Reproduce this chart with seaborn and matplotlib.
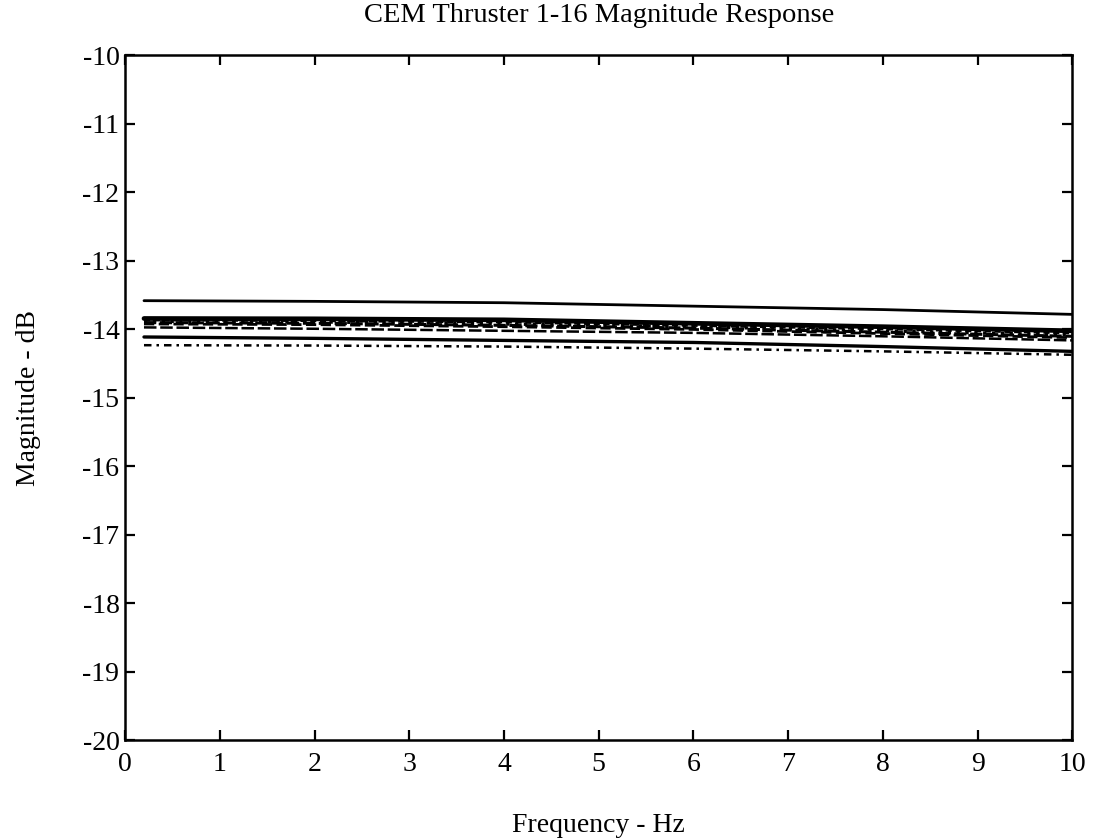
import numpy as np
import pandas as pd
import matplotlib
matplotlib.use("Agg")
import matplotlib.pyplot as plt
import seaborn as sns

# Frequency points (Hz) at which each thruster response is tabulated
freq_hz = [0.2, 2, 4, 6, 8, 10]

# Magnitude responses (dB) for the thruster channels
thr_a = [-13.58, -13.59, -13.61, -13.66, -13.71, -13.78]
thr_b = [-13.84, -13.845, -13.86, -13.91, -13.96, -14.02]
thr_c = [-13.86, -13.87, -13.89, -13.94, -13.99, -14.05]
thr_d = [-13.88, -13.89, -13.92, -13.96, -14.02, -14.08]
thr_e = [-13.90, -13.91, -13.94, -13.98, -14.04, -14.10]
thr_f = [-13.92, -13.93, -13.96, -14.00, -14.06, -14.12]
thr_g = [-13.97, -13.99, -14.02, -14.05, -14.10, -14.16]
thr_h = [-14.11, -14.13, -14.16, -14.19, -14.25, -14.32]
thr_i = [-14.23, -14.235, -14.25, -14.28, -14.32, -14.37]

x_ticks = [0, 1, 2, 3, 4, 5, 6, 7, 8, 9, 10]
y_ticks = [-20, -19, -18, -17, -16, -15, -14, -13, -12, -11, -10]

series = [
    ("a", thr_a, "-", 2.0),
    ("b", thr_b, "-", 3.4),
    ("c", thr_c, (0, (2, 1.2)), 2.2),
    ("d", thr_d, ":", 2.4),
    ("e", thr_e, (0, (4, 1.2)), 2.2),
    ("f", thr_f, "--", 2.0),
    ("g", thr_g, (0, (5, 1.5)), 1.8),
    ("h", thr_h, "-", 2.4),
    ("i", thr_i, (0, (3, 2, 1, 2)), 1.8),
]

sns.set_style("ticks")
plt.rcParams["font.family"] = ["Liberation Serif", "DejaVu Serif"]
plt.rcParams["text.color"] = "black"
plt.rcParams["axes.labelcolor"] = "black"

fig = plt.figure(figsize=(10.94, 8.40), dpi=100)
ax = fig.add_axes([0.1143, 0.1185, 0.866, 0.8155])

for name, vals, ls, lw in series:
    df = pd.DataFrame({"freq": freq_hz, "mag": vals})
    sns.lineplot(data=df, x="freq", y="mag", ax=ax, color="black",
                 linestyle=ls, linewidth=lw, legend=False)

ax.set_xlim(0, 10)
ax.set_ylim(-20, -10)
ax.set_xticks(x_ticks)
ax.set_yticks(y_ticks)
ax.set_xticklabels([str(t) for t in x_ticks])
ax.set_yticklabels([str(t) for t in y_ticks])

ax.tick_params(direction="in", length=7, width=1.6, top=True, right=True,
               labelsize=20, colors="black")
ax.tick_params(axis="x", pad=8)
ax.tick_params(axis="y", pad=4)
for sp in ax.spines.values():
    sp.set_visible(True)
    sp.set_color("black")
    sp.set_linewidth(1.8)

ax.set_title("CEM Thruster 1-16 Magnitude Response", fontsize=20.5, pad=24,
             color="black")
ax.set_xlabel("Frequency - Hz", fontsize=20, labelpad=26)
ax.set_ylabel("Magnitude - dB", fontsize=20, labelpad=30)

fig.savefig("out.png", dpi=100, facecolor="white")
